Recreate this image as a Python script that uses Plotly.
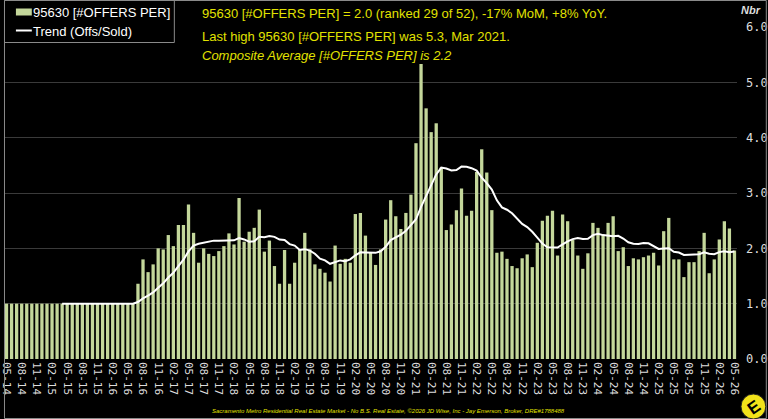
import pandas as pd
import plotly.graph_objects as go

# ---- data -------------------------------------------------------------
start_month = "2014-05-01"
n_months = 145
months = [d.strftime("%m-%y") for d in pd.date_range(start_month, periods=n_months, freq="MS")]
tick_labels = months[::3]

offers_per = [
    1.0, 1.0, 1.0, 1.0, 1.0, 1.0, 1.0, 1.0, 1.0, 1.0, 1.0, 1.0, 1.0,
    1.0, 1.0, 1.0, 1.0, 1.0, 1.0, 1.0, 1.0, 1.0, 1.0, 1.0, 1.0, 1.0,
    1.36, 1.80, 1.57, 1.71, 2.00, 1.98, 2.24, 2.04, 2.42, 2.42, 2.79, 2.28,
    1.74, 2.00, 1.90, 1.86, 1.95, 2.04, 2.27, 2.07, 2.91, 2.12, 2.30, 2.37,
    2.70, 1.94, 2.14, 1.68, 1.36, 1.97, 1.36, 1.74, 1.98, 2.28, 1.98, 1.71,
    1.63, 1.56, 1.40, 2.05, 1.72, 1.81, 1.74, 2.62, 2.64, 2.23, 1.92, 1.70,
    1.98, 2.52, 2.87, 2.58, 2.35, 2.64, 2.97, 3.90, 5.33, 4.53, 4.10, 4.26,
    3.46, 2.33, 2.43, 2.69, 3.08, 2.59, 2.68, 3.38, 3.79, 3.37, 2.69, 1.92,
    1.94, 1.81, 1.68, 1.64, 1.82, 1.89, 1.66, 2.10, 2.50, 2.59, 2.68, 1.87,
    2.61, 2.49, 2.15, 1.87, 1.63, 1.91, 2.46, 2.37, 2.24, 2.46, 2.58, 1.95,
    2.02, 1.68, 1.82, 1.80, 1.84, 1.87, 1.92, 1.69, 2.31, 2.55, 1.80, 1.80,
    1.48, 1.75, 1.75, 1.95, 2.28, 1.55, 1.80, 2.16, 2.49, 2.36, 1.96,
]
trend_window = 12
trend = pd.Series(offers_per).rolling(trend_window).mean().tolist()

bar_name = "95630 [#OFFERS PER]"
trend_name = "Trend (Offs/Sold)"
title_1 = "95630 [#OFFERS PER] = 2.0 (ranked 29 of 52), -17% MoM, +8% YoY."
title_2 = "Last high 95630 [#OFFERS PER] was 5.3, Mar 2021."
title_3 = "Composite Average [#OFFERS PER] is 2.2"
footer = ("Sacramento Metro Residential Real Estate Market - No B.S. Real Estate, "
          "\u00a92026 JD Wise, Inc - Jay Emerson, Broker, DRE#1788488")
y_ticks = [0, 1, 2, 3, 4, 5, 6]

# ---- styling -------------------------------------------------------
W, H = 768, 419
ML, MR, MT, MB = 0, 30, 27, 60
PW, PH = W - ML - MR, H - MT - MB


def px_x(p):
    return (p - ML) / PW


def px_y(p):
    return (H - MB - p) / PH


YELLOW = "#e2e200"
BAR = "#c4d79b"
MONO = "DejaVu Sans Mono"
SANS = "Arial, Liberation Sans"

fig = go.Figure()
fig.add_trace(go.Bar(x=months, y=offers_per, name=bar_name, showlegend=False,
                     marker=dict(color=BAR, line=dict(width=0))))
fig.add_trace(go.Scatter(x=months, y=trend, name=trend_name, mode="lines",
                         showlegend=False, line=dict(color="white", width=2)))

fig.update_layout(
    width=W, height=H,
    margin=dict(l=ML, r=MR, t=MT, b=MB, pad=0),
    paper_bgcolor="black", plot_bgcolor="black",
    bargap=0.35,
    font=dict(family=SANS, color="white", size=13),
    showlegend=False,
    xaxis=dict(type="category", range=[-0.5, n_months - 0.5],
               tickmode="array", tickvals=tick_labels, ticktext=tick_labels,
               tickangle=90, tickfont=dict(family=MONO, size=11, color="#dddddd"),
               showgrid=False, zeroline=False, showline=False, ticks="",
               ticklabelstandoff=2),
    yaxis=dict(side="right", range=[0, 6], tickvals=y_ticks, tickformat=".1f",
               tickfont=dict(family=MONO, size=12, color="#dddddd"),
               showgrid=True, gridcolor="#3a3a3a", gridwidth=1,
               zeroline=False, showline=False, ticks="", ticklabelstandoff=8),
)

annotations = [
    dict(text=title_1, x=px_x(197), y=px_y(14), xanchor="left", yanchor="middle",
         font=dict(color=YELLOW, size=13)),
    dict(text=title_2, x=px_x(197), y=px_y(36), xanchor="left", yanchor="middle",
         font=dict(color=YELLOW, size=13)),
    dict(text="<i>" + title_3 + "</i>", x=px_x(197), y=px_y(55), xanchor="left",
         yanchor="middle", font=dict(color=YELLOW, size=13)),
    dict(text="<b><i>Nbr</i></b>", x=px_x(752), y=px_y(10), xanchor="center",
         yanchor="middle", font=dict(color="#dddddd", size=11)),
    dict(text="<i>" + footer + "</i>", x=px_x(387), y=px_y(411), xanchor="center",
         yanchor="middle", font=dict(color=YELLOW, size=6)),
    dict(text="<b>E</b>", x=px_x(755), y=px_y(407), xanchor="center",
         yanchor="middle", textangle=-35, font=dict(color="black", size=17,
                                                    family="Arial Black, Arial")),
    # custom legend labels
    dict(text=bar_name, x=px_x(27), y=px_y(12), xanchor="left", yanchor="middle",
         font=dict(color="white", size=13, family=SANS)),
    dict(text=trend_name, x=px_x(27), y=px_y(31), xanchor="left", yanchor="middle",
         font=dict(color="white", size=13, family=SANS)),
]
for a in annotations:
    a.update(xref="paper", yref="paper", showarrow=False)
fig.update_layout(annotations=annotations)

fig.update_layout(shapes=[
    # legend box
    dict(type="rect", xref="paper", yref="paper",
         x0=px_x(0.5), x1=px_x(171.5), y0=px_y(42.5), y1=px_y(0.5),
         fillcolor="black", line=dict(color="#8a8a8a", width=1), layer="above"),
    dict(type="rect", xref="paper", yref="paper",
         x0=px_x(12), x1=px_x(28), y0=px_y(15.5), y1=px_y(8.5),
         fillcolor=BAR, line=dict(width=0), layer="above"),
    dict(type="line", xref="paper", yref="paper",
         x0=px_x(12), x1=px_x(28), y0=px_y(30.5), y1=px_y(30.5),
         line=dict(color="white", width=2), layer="above"),
    # outer frame
    dict(type="rect", xref="paper", yref="paper",
         x0=px_x(0.5), x1=px_x(767.5), y0=px_y(418.5), y1=px_y(0.5),
         line=dict(color="#8a8a8a", width=1), layer="above"),
    # logo disc
    dict(type="circle", xref="paper", yref="paper",
         x0=px_x(742), x1=px_x(767), y0=px_y(419), y1=px_y(394),
         fillcolor="#f2e21a", line=dict(color="#222222", width=1), layer="above"),
])

fig.write_html("out.html")
